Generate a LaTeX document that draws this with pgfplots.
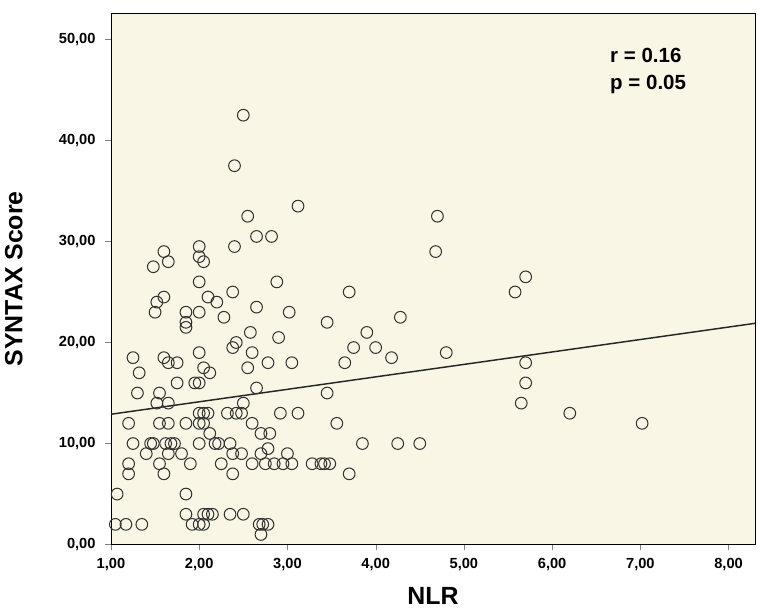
\documentclass[border=0pt]{standalone}
\usepackage{pgfplots}
\pgfplotsset{compat=1.18}
\usepackage{fontspec}
\setmainfont{Liberation Sans}
\definecolor{bg}{RGB}{249,246,230}
\begin{document}
\begin{tikzpicture}
\begin{axis}[width=440pt,height=363pt,scale only axis,
xmin=1,xmax=8.3,ymin=0,ymax=52.6,
axis background/.style={fill=bg},
xtick={1,2,...,8},ytick={0,10,...,50},
xticklabel={\pgfmathprintnumber[fixed,fixed zerofill,precision=2,use comma]{\tick}},
yticklabel={\pgfmathprintnumber[fixed,fixed zerofill,precision=2,use comma]{\tick}},
/pgf/number format/assume math mode=true,
ticklabel style={font=\bfseries\fontsize{10}{12}\selectfont},
yticklabel style={xshift=-3pt},xticklabel style={yshift=-2pt},
tick align=outside,tick pos=left,major tick length=4pt,
xlabel={\bfseries NLR},ylabel={\bfseries SYNTAX Score},
label style={font=\bfseries\fontsize{17}{20}\selectfont},
xlabel style={yshift=-4pt},ylabel style={yshift=18pt},
]
\addplot[only marks,mark=o,mark size=4pt,black!80,line width=0.7pt] coordinates {
(2.5,42.5)(2.4,37.5)(2.55,32.5)(3.12,33.5)(4.7,32.5)(4.68,29)(2.65,30.5)(2.82,30.5)(2.4,29.5)(1.6,29)(2.0,29.5)(1.65,28)(2.0,28.5)(2.05,28)(1.48,27.5)(5.7,26.5)(5.58,25)(3.7,25)(2.88,26)(2.0,26)(2.38,25)(1.6,24.5)(1.52,24)(2.1,24.5)(2.2,24)(1.5,23)(1.85,23)(2.0,23)(2.65,23.5)(3.02,23)(2.28,22.5)(1.85,22)(1.85,21.5)(3.45,22)(4.28,22.5)(3.9,21)(2.58,21)(2.9,20.5)(2.38,19.5)(2.42,20)(3.75,19.5)(4.0,19.5)(4.8,19)(1.25,18.5)(1.6,18.5)(1.65,18)(1.75,18)(2.0,19)(2.6,19)(2.78,18)(3.05,18)(3.65,18)(4.18,18.5)(5.7,18)(1.32,17)(2.05,17.5)(2.12,17)(2.55,17.5)(1.55,15)(1.3,15)(1.52,14)(1.65,14)(1.75,16)(1.95,16)(2.0,16)(2.65,15.5)(3.45,15)(5.7,16)(5.65,14)(2.5,14)(2.48,13)(2.42,13)(2.32,13)(2.0,13)(2.05,13)(2.1,13)(2.0,12)(1.65,12)(1.55,12)(1.2,12)(1.85,12)(2.05,12)(2.92,13)(3.12,13)(3.56,12)(6.2,13)(7.02,12)(2.6,12)(2.7,11)(2.12,11)(1.25,10)(1.45,10)(1.48,10)(1.62,10)(1.68,10)(1.72,10)(2.18,10)(2.22,10)(2.35,10)(2.38,9)(2.48,9)(1.4,9)(1.65,9)(1.8,9)(2.0,10)(2.7,9)(2.8,11)(2.78,9.5)(3.0,9)(3.85,10)(4.25,10)(4.5,10)(1.2,8)(1.55,8)(1.9,8)(2.25,8)(2.6,8)(2.75,8)(2.85,8)(2.95,8)(3.05,8)(3.28,8)(3.38,8)(3.42,8)(3.48,8)(1.2,7)(1.6,7)(2.38,7)(3.7,7)(1.07,5)(1.85,5)(1.85,3)(2.1,3)(2.15,3)(2.05,3)(2.35,3)(2.5,3)(1.05,2)(1.17,2)(1.35,2)(1.92,2)(2.0,2)(2.05,2)(2.68,2)(2.72,2)(2.78,2)(2.7,1)
};
\addplot[black!85,line width=1pt] coordinates {(1,12.9)(8.3,21.9)};
\node[anchor=north west,font=\bfseries\fontsize{14}{17}\selectfont,align=left] at (axis cs:6.6,49.6) {r = 0.16\\[1pt]p = 0.05};
\end{axis}
\path ([shift={(2pt,9pt)}]current axis.north east);
\path ([yshift=-6pt]current axis.south);
\end{tikzpicture}
\end{document}
